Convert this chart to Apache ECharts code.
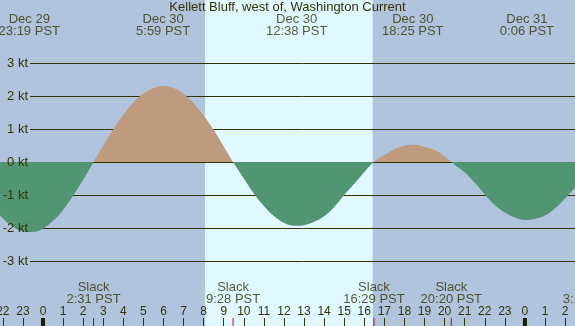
<!DOCTYPE html>
<html><head><meta charset="utf-8">
<script src="https://cdn.jsdelivr.net/npm/echarts@6/dist/echarts.min.js"></script>
<style>html,body{margin:0;padding:0;background:#b0c4de}#c{width:575px;height:326px}</style>
</head><body><div id="c"></div>
<script>
const chartTitle = 'Kellett Bluff, west of, Washington Current';
// hours since Dec 30 00:00 PST
const hours = [-3.0,-2.5,-2.0,-1.5,-1.0,-0.5,0.0,0.5,1.0,1.5,2.0,2.5,3.0,3.5,4.0,4.5,5.0,5.5,6.0,6.5,7.0,7.5,8.0,8.5,9.0,9.5,10.0,10.5,11.0,11.5,12.0,12.5,13.0,13.5,14.0,14.5,15.0,15.5,16.0,16.5,17.0,17.5,18.0,18.5,19.0,19.5,20.0,20.5,21.0,21.5,22.0,22.5,23.0,23.5,24.0,24.5,25.0,25.5,26.0,26.5,27.0];
const knots = [-0.89,-1.34,-1.70,-1.96,-2.10,-2.12,-2.01,-1.78,-1.45,-1.02,-0.54,-0.02,0.50,0.99,1.43,1.80,2.07,2.24,2.30,2.24,2.06,1.78,1.41,0.97,0.47,-0.03,-0.50,-0.95,-1.33,-1.63,-1.84,-1.93,-1.91,-1.81,-1.64,-1.36,-1.00,-0.66,-0.30,0.01,0.21,0.38,0.49,0.52,0.46,0.36,0.17,-0.08,-0.31,-0.63,-0.98,-1.30,-1.53,-1.68,-1.75,-1.72,-1.62,-1.40,-1.10,-0.77,-0.43];
const extremeHours = [-0.683, 5.983, 12.633, 18.417, 24.1];
const extremeDates = ['Dec 29','Dec 30','Dec 30','Dec 30','Dec 31'];
const extremeClock = ['23:19 PST','5:59 PST','12:38 PST','18:25 PST','0:06 PST'];
const slackHours = [2.517, 9.467, 16.483, 20.333, 27.233];
const slackClock = ['2:31 PST','9:28 PST','16:29 PST','20:20 PST','3:14 PST'];
const midnightHours = [0, 24];
const daylight = [[8.07, 16.42]];

const TXT = '#333300', NIGHT = '#b0c4de', DAY = '#e0f8ff', TAN = '#bd9b7c', GREEN = '#529573';
const FF = '"Liberation Sans", Arial, sans-serif';
// label rows expressed on the full-height value axis (style positions)
const TOP_ROW = 4.128, SLACK_ROW = -3.967, TICK_ROW = -4.838;

const ktAxisBase = { type: 'value', gridIndex: 1, min: -3, max: 3, interval: 1, position: 'left',
  axisLine: { show: false }, axisTick: { show: false } };

const chart = echarts.init(document.getElementById('c'));
chart.setOption({
  animation: false,
  backgroundColor: NIGHT,
  textStyle: { fontFamily: FF },
  title: { text: chartTitle, left: 'center', top: 0, padding: 0,
    textStyle: { fontSize: 13, fontWeight: 'normal', color: TXT, lineHeight: 14, fontFamily: FF } },
  grid: [
    { left: -17.24, right: -10.16, top: 0, bottom: 0, outerBoundsMode: 'none', containLabel: false },
    { left: 30, right: 0, top: 63.3, bottom: 64.3, outerBoundsMode: 'none', containLabel: false }
  ],
  xAxis: [
    { type: 'value', gridIndex: 0, min: -3, max: 27, interval: 1, z: 1.5,
      axisLine: { show: false, onZero: false }, splitLine: { show: false },
      axisTick: { show: true, inside: true, length: 8, lineStyle: { color: TXT, width: 1 } },
      axisLabel: { inside: true, margin: 14, verticalAlign: 'middle', fontSize: 12, color: TXT, fontFamily: FF,
        formatter: v => String(((v % 24) + 24) % 24) } },
    { type: 'value', gridIndex: 1, min: 0, max: 1, show: false }
  ],
  yAxis: [
    { type: 'value', gridIndex: 0, min: -4.959, max: 4.899, show: false, splitLine: { show: false } },
    Object.assign({}, ktAxisBase, { z: 1.5, axisLabel: { show: false },
      splitLine: { show: true, lineStyle: { color: TXT, width: 1 } } }),
    Object.assign({}, ktAxisBase, { z: 5, splitLine: { show: false },
      axisLabel: { margin: 2, fontSize: 13, color: TXT, fontFamily: FF, formatter: '{value} kt' } })
  ],
  series: [
    { type: 'line', xAxisIndex: 0, yAxisIndex: 0, silent: true, data: [],
      markArea: { silent: true, itemStyle: { color: DAY, opacity: 1 },
        data: daylight.map(d => [{ xAxis: d[0] }, { xAxis: d[1] }]) } },
    { type: 'line', xAxisIndex: 0, yAxisIndex: 0, z: 2, silent: true,
      data: hours.map((h, i) => [h, knots[i]]),
      smooth: 0.4, showSymbol: false, symbol: 'none',
      lineStyle: { width: 0 }, areaStyle: { opacity: 1, origin: 0, color: GREEN } },
    { type: 'scatter', xAxisIndex: 0, yAxisIndex: 0, z: 3, silent: true, clip: false,
      data: midnightHours.map(h => [h, TICK_ROW]),
      symbol: 'rect', symbolSize: [4, 8], itemStyle: { color: '#1e1e00', opacity: 1 } },
    { type: 'scatter', xAxisIndex: 0, yAxisIndex: 0, z: 3, silent: true, clip: false,
      data: slackHours.map(h => [h, TICK_ROW]),
      symbol: 'rect', symbolSize: [1, 8], itemStyle: { color: '#d00000', opacity: 1 } },
    { type: 'scatter', xAxisIndex: 0, yAxisIndex: 0, z: 4, silent: true, clip: false,
      data: extremeHours.map(h => [h, TOP_ROW]),
      symbol: 'rect', symbolSize: 1, itemStyle: { color: 'rgba(0,0,0,0)' },
      label: { show: true, position: 'inside', align: 'center', verticalAlign: 'middle',
        fontSize: 13, lineHeight: 12, color: TXT, fontFamily: FF,
        formatter: p => extremeDates[p.dataIndex] + '\n' + extremeClock[p.dataIndex] } },
    { type: 'scatter', xAxisIndex: 0, yAxisIndex: 0, z: 4, silent: true, clip: false,
      data: slackHours.map(h => [h, SLACK_ROW]),
      symbol: 'rect', symbolSize: 1, itemStyle: { color: 'rgba(0,0,0,0)' },
      label: { show: true, position: 'inside', align: 'center', verticalAlign: 'middle',
        fontSize: 13, lineHeight: 12, color: TXT, fontFamily: FF,
        formatter: p => 'Slack\n' + slackClock[p.dataIndex] } }
  ]
});
// split the fill colour at the zero line, using the axis scale
const zeroY = chart.convertToPixel({ xAxisIndex: 0, yAxisIndex: 0 }, [0, 0])[1];
const off = zeroY / chart.getHeight();
chart.setOption({ series: [{}, { areaStyle: { color: new echarts.graphic.LinearGradient(0, 0, 0, chart.getHeight(), [
  { offset: 0, color: TAN }, { offset: off, color: TAN }, { offset: off, color: GREEN }, { offset: 1, color: GREEN }
], true) } }] });
</script></body></html>
